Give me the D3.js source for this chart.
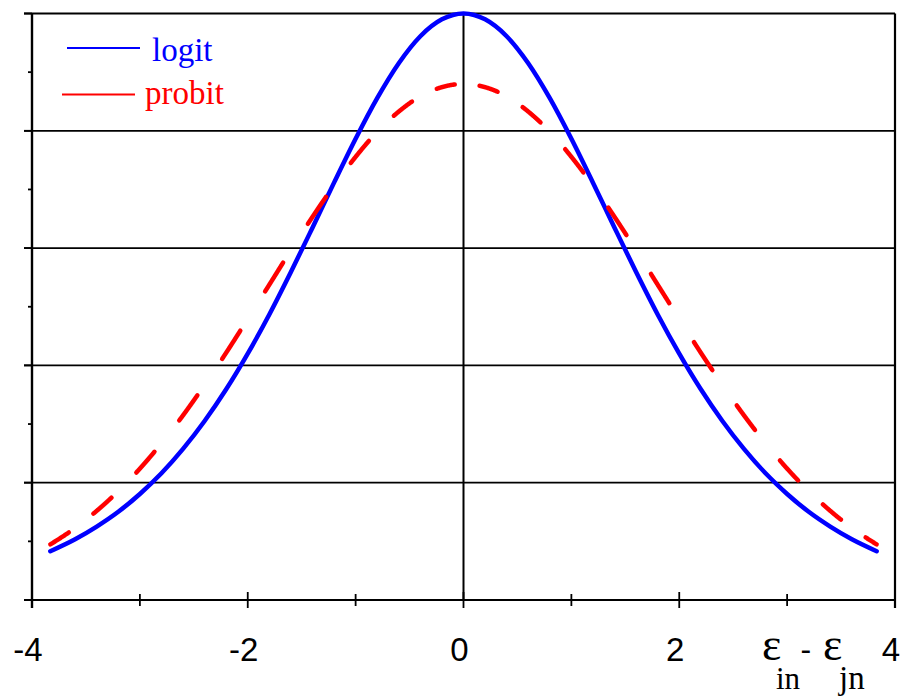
<!DOCTYPE html>
<html>
<head>
<meta charset="utf-8">
<script src="https://cdn.jsdelivr.net/npm/d3@7"></script>
<style>
  html, body { margin: 0; padding: 0; background: #fff; }
  svg { display: block; }
</style>
</head>
<body>
<svg id="chart" width="903" height="696"></svg>
<script>
// ---- data ----
const xValues = [-3.83, -3.6, -3.4, -3.2, -3.0, -2.8, -2.6, -2.4, -2.2, -2.0, -1.8, -1.6, -1.4, -1.2, -1.0, -0.8, -0.6, -0.4, -0.2, 0,
                 0.2, 0.4, 0.6, 0.8, 1.0, 1.2, 1.4, 1.6, 1.8, 2.0, 2.2, 2.4, 2.6, 2.8, 3.0, 3.2, 3.4, 3.6, 3.83];
const logitValues = [0.0208, 0.0259, 0.0313, 0.0376, 0.0452, 0.0540, 0.0644, 0.0763, 0.0898, 0.1050, 0.1217, 0.1398, 0.1587, 0.1779, 0.1966, 0.2139, 0.2288, 0.2403, 0.2475, 0.2500,
                     0.2475, 0.2403, 0.2288, 0.2139, 0.1966, 0.1779, 0.1587, 0.1398, 0.1217, 0.1050, 0.0898, 0.0763, 0.0644, 0.0540, 0.0452, 0.0376, 0.0313, 0.0259, 0.0208];
const probitValues = [0.0237, 0.0307, 0.0380, 0.0464, 0.0560, 0.0668, 0.0787, 0.0917, 0.1054, 0.1198, 0.1344, 0.1491, 0.1633, 0.1767, 0.1889, 0.1996, 0.2082, 0.2147, 0.2186, 0.2200,
                      0.2186, 0.2147, 0.2082, 0.1996, 0.1889, 0.1767, 0.1633, 0.1491, 0.1344, 0.1198, 0.1054, 0.0917, 0.0787, 0.0668, 0.0560, 0.0464, 0.0380, 0.0307, 0.0237];
const xTickValues = [-4, -3, -2, -1, 0, 1, 2, 3, 4];
const xTickLabels = ["-4", "", "-2", "", "0", "", "2", "", "4"];
const yMajorTicks = [0, 0.05, 0.10, 0.15, 0.20, 0.25];
const yMinorTicks = [0.025, 0.075, 0.125, 0.175, 0.225];
const seriesNames = ["logit", "probit"];
const seriesColors = ["#0000ff", "#ff0000"];

// ---- layout ----
const svg = d3.select("#chart");
svg.append("rect").attr("width", 903).attr("height", 696).attr("fill", "#fff");

const x = d3.scaleLinear().domain([-4, 4]).range([32, 895]);
const y = d3.scaleLinear().domain([0, 0.25]).range([600, 13.5]);

const black = "#000";

// horizontal grid lines (incl. top frame)
svg.append("g").selectAll("line").data(yMajorTicks.filter(d => d > 0)).join("line")
  .attr("x1", x(-4) - 8).attr("x2", x(4))
  .attr("y1", d => y(d)).attr("y2", d => y(d))
  .attr("stroke", black).attr("stroke-width", 1.8);

// right frame
svg.append("line").attr("x1", x(4)).attr("x2", x(4)).attr("y1", y(0.25)).attr("y2", y(0) + 8)
  .attr("stroke", black).attr("stroke-width", 2.2);

// centre vertical line at x = 0
svg.append("line").attr("x1", x(0)).attr("x2", x(0)).attr("y1", y(0.25)).attr("y2", y(0))
  .attr("stroke", black).attr("stroke-width", 2);

// left axis
svg.append("line").attr("x1", x(-4)).attr("x2", x(-4)).attr("y1", y(0.25)).attr("y2", y(0) + 8)
  .attr("stroke", black).attr("stroke-width", 2.4);
svg.append("g").selectAll("line").data(yMajorTicks).join("line")
  .attr("x1", x(-4) - 8).attr("x2", x(-4))
  .attr("y1", d => y(d)).attr("y2", d => y(d))
  .attr("stroke", black).attr("stroke-width", 1.8);
svg.append("g").selectAll("line").data(yMinorTicks).join("line")
  .attr("x1", x(-4) - 4).attr("x2", x(-4))
  .attr("y1", d => y(d)).attr("y2", d => y(d))
  .attr("stroke", black).attr("stroke-width", 1.8);

// bottom axis
svg.append("line").attr("x1", x(-4) - 8).attr("x2", x(4)).attr("y1", y(0)).attr("y2", y(0))
  .attr("stroke", black).attr("stroke-width", 2);
svg.append("g").selectAll("line").data(xTickValues).join("line")
  .attr("x1", d => x(d)).attr("x2", d => x(d))
  .attr("y1", d => y(0) - (d % 2 === 0 ? 8 : 6))
  .attr("y2", d => y(0) + (d % 2 === 0 ? 8 : 6))
  .attr("stroke", black).attr("stroke-width", 1.8);
svg.append("g").selectAll("text").data(xTickValues).join("text")
  .attr("x", d => x(d) - 4).attr("y", 661)
  .attr("text-anchor", "middle")
  .attr("font-family", "'Liberation Sans', Arial, sans-serif")
  .attr("font-size", 33)
  .attr("fill", black)
  .text((d, i) => xTickLabels[i]);

// axis title: ε_in - ε_jn (one text element with positioned tspans)
const tfont = "'Liberation Serif', 'Times New Roman', serif";
const title = svg.append("text").attr("fill", black).attr("font-family", tfont);
title.append("tspan").attr("x", 762).attr("y", 660).attr("font-size", 46).text("ε");
title.append("tspan").attr("x", 776).attr("y", 689).attr("font-size", 31).text("in");
title.append("tspan").attr("x", 800.5).attr("y", 660).attr("font-size", 32)
  .attr("font-family", "'Liberation Sans', Arial, sans-serif").text("-");
title.append("tspan").attr("x", 823).attr("y", 660).attr("font-size", 46).text("ε");
title.append("tspan").attr("x", 839).attr("y", 689).attr("font-size", 33).text("jn");

// ---- curves ----
const line = d3.line().x(d => x(d[0])).y(d => y(d[1])).curve(d3.curveMonotoneX);
const logitData = xValues.map((v, i) => [v, logitValues[i]]);
const probitData = xValues.map((v, i) => [v, probitValues[i]]);

svg.append("path").attr("d", line(logitData))
  .attr("fill", "none").attr("stroke", seriesColors[0]).attr("stroke-width", 4.5)
  .attr("stroke-linecap", "round").attr("stroke-linejoin", "round");

// probit: dashes spaced evenly along x
const hidden = svg.append("path").attr("d", line(probitData))
  .attr("fill", "none").attr("stroke", "none");
const node = hidden.node();
const total = node.getTotalLength();
const samples = [];
for (let l = 0; l <= total; l += 0.5) {
  const p = node.getPointAtLength(l);
  samples.push([p.x, p.y]);
}
const endP = node.getPointAtLength(total);
samples.push([endP.x, endP.y]);
hidden.remove();

const dashPeriod = 0.3977, dashLen = 0.1715; // in x data units
const x0 = xValues[0], xEnd = xValues[xValues.length - 1];
const dashes = [];
for (let s = x0; s < xEnd; s += dashPeriod) {
  const a = x(s), b = x(Math.min(s + dashLen, xEnd));
  const seg = samples.filter(p => p[0] >= a && p[0] <= b);
  if (seg.length > 1) dashes.push(seg);
}
svg.append("g").selectAll("path").data(dashes).join("path")
  .attr("d", d3.line())
  .attr("fill", "none").attr("stroke", seriesColors[1]).attr("stroke-width", 4.5)
  .attr("stroke-linecap", "round").attr("stroke-linejoin", "round");

// ---- legend ----
const legend = svg.append("g");
legend.append("line").attr("x1", 67).attr("x2", 140).attr("y1", 48).attr("y2", 48)
  .attr("stroke", seriesColors[0]).attr("stroke-width", 1.8);
legend.append("text").attr("x", 152).attr("y", 61).attr("font-family", tfont).attr("font-size", 33)
  .attr("fill", seriesColors[0]).text(seriesNames[0]);
legend.append("line").attr("x1", 62).attr("x2", 135).attr("y1", 94.5).attr("y2", 94.5)
  .attr("stroke", seriesColors[1]).attr("stroke-width", 1.8);
legend.append("text").attr("x", 145).attr("y", 104).attr("font-family", tfont).attr("font-size", 33)
  .attr("fill", seriesColors[1]).text(seriesNames[1]);
</script>
</body>
</html>
